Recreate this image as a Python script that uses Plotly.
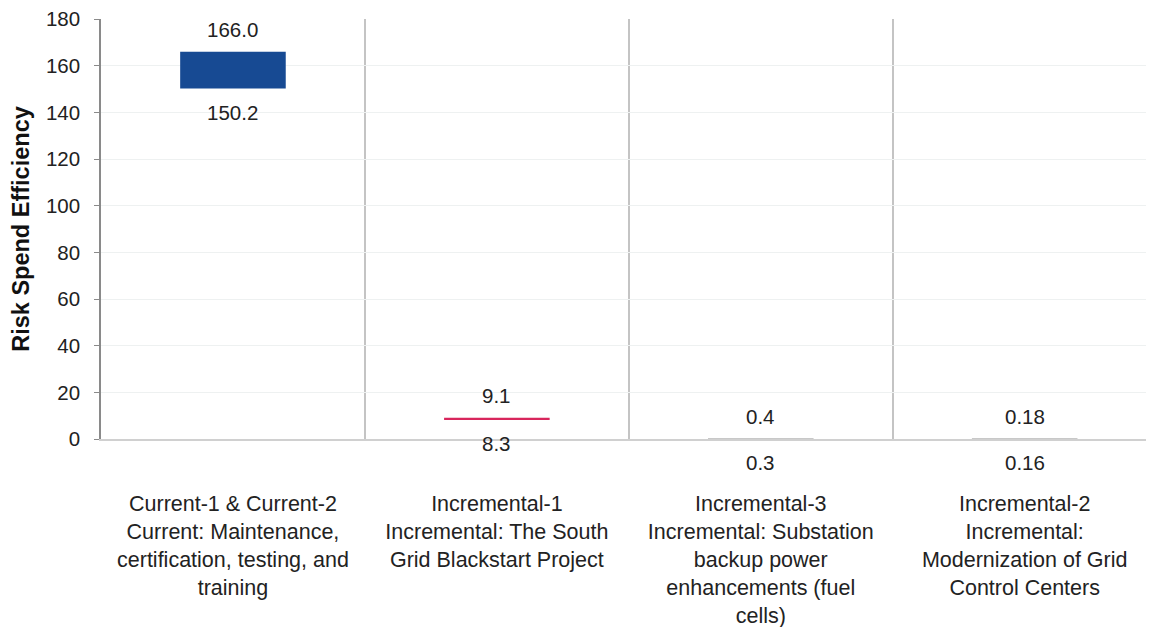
import plotly.graph_objects as go

categories = [
    "Current-1 & Current-2<br>Current: Maintenance,<br>certification, testing, and<br>training",
    "Incremental-1<br>Incremental: The South<br>Grid Blackstart Project",
    "Incremental-3<br>Incremental: Substation<br>backup power<br>enhancements (fuel<br>cells)",
    "Incremental-2<br>Incremental:<br>Modernization of Grid<br>Control Centers",
]
high_vals = [166.0, 9.1, 0.4, 0.18]
low_vals = [150.2, 8.3, 0.3, 0.16]
decimals = [1, 1, 1, 2]

bar_colors = ["#174a93", "#d8265c", "#c8c8c8", "#c8c8c8"]

font = "Liberation Sans, Arial, sans-serif"

fig = go.Figure()
fig.add_trace(go.Bar(
    x=categories,
    y=[h - l for h, l in zip(high_vals, low_vals)],
    base=low_vals,
    width=0.4,
    marker_color=bar_colors,
    marker_line_width=0,
    hoverinfo="skip",
))

# value labels above the top and below the bottom of each bar
for i, c in enumerate(categories):
    fig.add_annotation(x=c, y=high_vals[i], text=f"{high_vals[i]:.{decimals[i]}f}",
                       showarrow=False, yanchor="middle", yshift=22,
                       font=dict(size=20.5, color="#222222", family=font))
    fig.add_annotation(x=c, y=low_vals[i], text=f"{low_vals[i]:.{decimals[i]}f}",
                       showarrow=False, yanchor="middle", yshift=-24,
                       font=dict(size=20.5, color="#222222", family=font))

# page body has an 8px margin, so the figure is a bit smaller than the window
fig.update_layout(
    width=1146, height=619,
    margin=dict(l=93, r=0, t=11, b=188),
    plot_bgcolor="white", paper_bgcolor="white",
    showlegend=False,
    font=dict(family=font, size=21, color="#222222"),
)
fig.update_xaxes(
    range=[-0.5, 3.49], automargin=False,
    tickson="boundaries", showgrid=True, gridcolor="#c4c4c4", gridwidth=1.5,
    ticks="", showline=True, linecolor="#d0d0d0", linewidth=2,
    ticklabelstandoff=44, ticklabeloverflow="allow",
    tickfont=dict(size=21.5, color="#222222"),
)
fig.update_yaxes(
    range=[0, 180], dtick=20, automargin=False,
    showgrid=True, gridcolor="#eef1f1", zeroline=False,
    showline=True, linecolor="#8a8a8a", linewidth=1.5,
    ticks="outside", ticklen=5, tickcolor="#8a8a8a",
    ticklabelstandoff=10, ticklabeloverflow="allow",
    tickfont=dict(size=20.5, color="#222222"),
    title=dict(text="<b>Risk Spend Efficiency</b>", font=dict(size=23.5, color="#111111"), standoff=10),
)

fig.write_html("out.html")
